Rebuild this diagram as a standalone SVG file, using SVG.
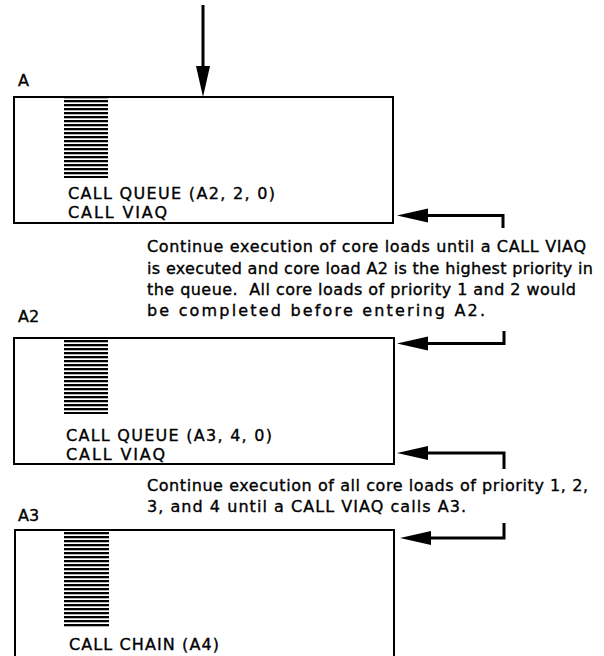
<svg xmlns="http://www.w3.org/2000/svg" width="604" height="656" viewBox="0 0 604 656">
<style>
.box{fill:none;stroke:#000;stroke-width:2}
.t{font-family:"DejaVu Sans","Liberation Sans",sans-serif;font-size:16px;fill:#000;stroke:#000;stroke-width:0.35;white-space:pre}
.c{fill:none;stroke:#000;stroke-width:3}
.h{fill:url(#hatch)}
</style>
<defs>
<pattern id="hatch" patternUnits="userSpaceOnUse" x="0" y="0" width="8" height="4">
<rect x="0" y="0" width="8" height="2.3" fill="#000"/>
</pattern>
<marker id="ah" markerUnits="userSpaceOnUse" markerWidth="36" markerHeight="18" viewBox="-20 -9 36 18" refX="0" refY="0" orient="auto">
<path d="M13,0 L-18,-7 L-18,7 Z" fill="#000"/>
</marker>
</defs>
<rect width="604" height="656" fill="#fff"/>
<g id="nodeA">
<text class="t" x="18" y="86">A</text>
<rect class="box" x="14" y="97" width="379" height="126"/>
<rect class="h" x="64" y="98" width="44" height="80"/>
<text class="t" x="68" y="199" textLength="207" lengthAdjust="spacing">CALL QUEUE (A2, 2, 0)</text>
<text class="t" x="68" y="218" textLength="99" lengthAdjust="spacing">CALL VIAQ</text>
</g>
<g id="note1">
<text class="t" x="147" y="252" textLength="439" lengthAdjust="spacing">Continue execution of core loads until a CALL VIAQ</text>
<text class="t" x="147" y="273.5" textLength="446" lengthAdjust="spacing">is executed and core load A2 is the highest priority in</text>
<text class="t" x="147" y="295" textLength="429" lengthAdjust="spacing">the queue.  All core loads of priority 1 and 2 would</text>
<text class="t" x="147" y="316" textLength="338" lengthAdjust="spacing">be completed before entering A2.</text>
</g>
<g id="nodeA2">
<text class="t" x="18" y="321.5">A2</text>
<rect class="box" x="14" y="338" width="380" height="126"/>
<rect class="h" x="64" y="339" width="44" height="75"/>
<text class="t" x="66" y="441" textLength="206" lengthAdjust="spacing">CALL QUEUE (A3, 4, 0)</text>
<text class="t" x="66" y="459.5" textLength="99" lengthAdjust="spacing">CALL VIAQ</text>
</g>
<g id="note2">
<text class="t" x="147" y="490.5" textLength="441" lengthAdjust="spacing">Continue execution of all core loads of priority 1, 2,</text>
<text class="t" x="147" y="511.5" textLength="319" lengthAdjust="spacing">3, and 4 until a CALL VIAQ calls A3.</text>
</g>
<g id="nodeA3">
<text class="t" x="18" y="521">A3</text>
<rect class="box" x="15" y="530" width="379" height="140"/>
<rect class="h" x="64" y="532" width="45" height="95"/>
<text class="t" x="69" y="650" textLength="150" lengthAdjust="spacing">CALL CHAIN (A4)</text>
</g>
<g id="connectors">
<path class="c" d="M203 5 V84" marker-end="url(#ah)"/>
<path class="c" d="M503 228 V215.5 H410" marker-end="url(#ah)"/>
<path class="c" d="M504 331 V343.5 H410" marker-end="url(#ah)"/>
<path class="c" d="M504 469 V453 H410" marker-end="url(#ah)"/>
<path class="c" d="M504 523 V538 H413" marker-end="url(#ah)"/>
</g>
</svg>
